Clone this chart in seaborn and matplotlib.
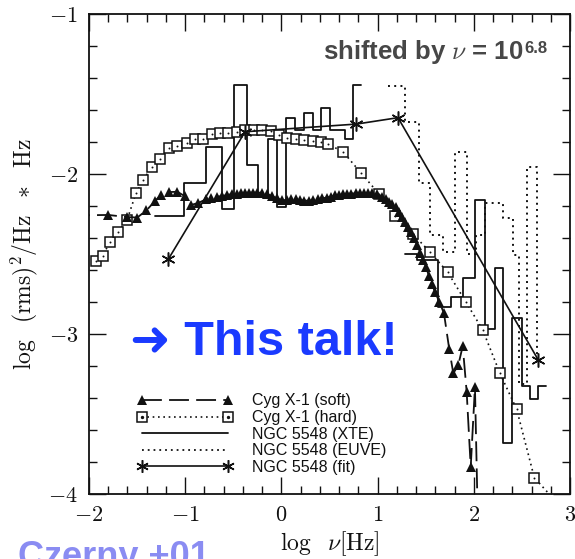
import numpy as np
import pandas as pd
import matplotlib
matplotlib.use("Agg")
import matplotlib.pyplot as plt
from matplotlib.lines import Line2D
from matplotlib.legend_handler import HandlerTuple
from matplotlib.ticker import MultipleLocator, FuncFormatter
import seaborn as sns

# ---------------- data ----------------
soft_x = [-2.198, -1.799, -1.608, -1.498, -1.404, -1.309, -1.255, -1.168, -1.082, -1.005,
          -0.943, -0.864, -0.787, -0.732, -0.666, -0.617, -0.565, -0.510, -0.462, -0.420,
          -0.378, -0.337, -0.295, -0.254, -0.199, -0.150, -0.095, -0.046, 0.009, 0.058,
          0.100, 0.149, 0.193, 0.235, 0.287, 0.328, 0.380, 0.425, 0.474, 0.516,
          0.557, 0.599, 0.640, 0.682, 0.723, 0.772, 0.817, 0.859, 0.900, 0.945,
          0.994, 1.049, 1.087, 1.119, 1.150, 1.188, 1.222, 1.257, 1.285, 1.316,
          1.347, 1.378, 1.410, 1.441, 1.472, 1.503, 1.534, 1.565, 1.597, 1.641,
          1.690, 1.745, 1.787, 1.839, 1.885, 1.926, 1.968, 2.012, 2.044]
soft_y = [-2.259, -2.256, -2.269, -2.272, -2.228, -2.166, -2.131, -2.113, -2.111, -2.138,
          -2.194, -2.181, -2.159, -2.147, -2.141, -2.138, -2.131, -2.125, -2.122, -2.119,
          -2.118, -2.117, -2.116, -2.116, -2.117, -2.125, -2.138, -2.153, -2.163, -2.163,
          -2.159, -2.158, -2.163, -2.166, -2.167, -2.163, -2.156, -2.152, -2.147, -2.141,
          -2.134, -2.131, -2.128, -2.125, -2.122, -2.121, -2.119, -2.119, -2.119, -2.121,
          -2.128, -2.142, -2.156, -2.173, -2.188, -2.209, -2.238, -2.269, -2.300, -2.331,
          -2.363, -2.400, -2.444, -2.494, -2.538, -2.581, -2.638, -2.688, -2.738, -2.798,
          -2.871, -3.096, -3.246, -3.194, -3.075, -3.363, -3.831, -3.331, -4.225]

hard_x = [-1.930, -1.854, -1.785, -1.695, -1.605, -1.511, -1.439, -1.345, -1.257, -1.168,
          -1.082, -0.984, -0.898, -0.812, -0.725, -0.638, -0.552, -0.465, -0.378, -0.290,
          -0.202, -0.111, -0.022, 0.061, 0.152, 0.238, 0.325, 0.409, 0.488, 0.643,
          0.824, 1.015, 1.176, 1.371, 1.545, 1.729, 1.916, 2.093, 2.272, 2.446,
          2.629, 2.958]
hard_y = [-2.542, -2.511, -2.423, -2.361, -2.288, -2.119, -2.038, -1.956, -1.906, -1.839,
          -1.825, -1.808, -1.781, -1.781, -1.747, -1.743, -1.741, -1.736, -1.728, -1.728,
          -1.727, -1.731, -1.758, -1.775, -1.779, -1.786, -1.794, -1.798, -1.813, -1.863,
          -1.991, -2.125, -2.261, -2.378, -2.488, -2.614, -2.798, -2.975, -3.246, -3.471,
          -3.898, -4.116]

# NGC 5548 XTE histogram (bin left edges, bin values); last entry closes the last bin
xte_lo_x = [-1.314, -1.012, -0.781, -0.621, -0.496, -0.361, -0.240, -0.136, -0.043, 0.048,
            0.141, 0.235, 0.332, 0.409, 0.505, 0.661, 0.747, 0.827]
xte_lo_y = [-2.263, -2.054, -1.833, -2.221, -1.444, -1.944, -2.131, -1.783, -2.204, -1.647,
            -1.725, -1.619, -1.725, -1.589, -1.725, -1.783, -1.444, -1.444]
xte_hi_x = [1.285, 1.406, 1.631, 1.763, 1.883, 2.012, 2.116, 2.220, 2.307, 2.402,
            2.498, 2.584, 2.671, 2.751]
xte_hi_y = [-2.500, -2.538, -2.829, -2.767, -2.652, -2.163, -2.969, -2.589, -3.679, -2.897,
            -3.322, -3.409, -3.322, -3.322]

# NGC 5548 EUVE histogram
euve_x = [1.111, 1.285, 1.434, 1.545, 1.677, 1.805, 1.926, 2.026, 2.116, 2.307,
          2.404, 2.473, 2.556, 2.654, 2.654]
euve_y = [-1.450, -1.673, -2.058, -2.381, -2.486, -1.861, -2.500, -2.381, -2.183, -2.277,
          -2.506, -3.313, -1.954, -3.163, -3.163]

# NGC 5548 fit
fit_x = [-1.174, -0.378, 0.779, 1.212, 2.671]
fit_y = [-2.531, -1.736, -1.688, -1.648, -3.163]

labels = ["Cyg X-1 (soft)", "Cyg X-1 (hard)", "NGC 5548 (XTE)", "NGC 5548 (EUVE)", "NGC 5548 (fit)"]
xticks = [-2, -1, 0, 1, 2, 3]
yticks = [-4, -3, -2, -1]

# ---------------- style ----------------
sns.set_style("ticks")
plt.rcParams["font.family"] = ["Liberation Sans", "DejaVu Sans"]
plt.rcParams["mathtext.fontset"] = "cm"

INK = "#111111"
SOFT_LS = (0, (11, 4))
DOT_LS = (0, (1, 2.2))
ASTER = (6, 2, 0)

fig = plt.figure(figsize=(5.75, 5.59), dpi=100)
ax = fig.add_axes([89 / 575, 1 - 494 / 559, 481 / 575, 480 / 559])

soft = pd.DataFrame({"x": soft_x, "y": soft_y})
hard = pd.DataFrame({"x": hard_x, "y": hard_y})
fit = pd.DataFrame({"x": fit_x, "y": fit_y})

sns.lineplot(data=soft, x="x", y="y", sort=False, estimator=None, ax=ax, color=INK,
             lw=1.3, linestyle=SOFT_LS, marker="^", markersize=7,
             markeredgewidth=0, markerfacecolor=INK, zorder=4)
sns.lineplot(data=hard, x="x", y="y", sort=False, estimator=None, ax=ax, color=INK,
             lw=1.2, linestyle=DOT_LS, marker="s", markersize=6.8,
             markerfacecolor="white", markeredgecolor=INK, markeredgewidth=1.1, zorder=3)
sns.scatterplot(data=hard, x="x", y="y", ax=ax, color=INK, s=2, linewidth=0, zorder=3.5)

sns.lineplot(x=xte_lo_x, y=xte_lo_y, sort=False, estimator=None, ax=ax, color=INK,
             lw=1.3, drawstyle="steps-post", zorder=2)
sns.lineplot(x=xte_hi_x, y=xte_hi_y, sort=False, estimator=None, ax=ax, color=INK,
             lw=1.3, drawstyle="steps-post", zorder=2)
sns.lineplot(x=euve_x, y=euve_y, sort=False, estimator=None, ax=ax, color=INK,
             lw=1.4, linestyle=DOT_LS, drawstyle="steps-post", zorder=2)
sns.lineplot(data=fit, x="x", y="y", sort=False, estimator=None, ax=ax, color=INK,
             lw=1.2, zorder=5)
ax.plot(fit["x"], fit["y"], linestyle="none", marker=ASTER, markersize=10,
        markeredgewidth=1.1, color=INK, zorder=5.5)

ax.set_xlim(-2, 3)
ax.set_ylim(-4, -1)
ax.set_xticks(xticks)
ax.set_yticks(yticks)
ax.xaxis.set_minor_locator(MultipleLocator(0.2))
ax.yaxis.set_minor_locator(MultipleLocator(0.2))
fmt = FuncFormatter(lambda v, p: r"$%d$" % int(round(v)))
ax.xaxis.set_major_formatter(fmt)
ax.yaxis.set_major_formatter(fmt)
ax.tick_params(which="both", direction="in", top=True, right=True, color=INK, width=1.0,
               labelsize=16, labelcolor=INK)
ax.tick_params(which="major", length=12)
ax.tick_params(which="minor", length=6)
ax.tick_params(axis="x", pad=8)
ax.tick_params(axis="y", pad=8)
for s in ax.spines.values():
    s.set_linewidth(1.3)
    s.set_color(INK)
ax.set_xlabel(r"$\log\ \ \nu[\mathrm{Hz}]$", fontsize=17, color=INK, labelpad=2)
ax.set_ylabel(r"$\log\ \ (\mathrm{rms})^2/\mathrm{Hz}\ \ *\ \ \mathrm{Hz}$", fontsize=17,
              color=INK, labelpad=6)

# legend
h_soft = Line2D([], [], color=INK, lw=1.3, linestyle=SOFT_LS, marker="^",
                markersize=7, markeredgewidth=0)
h_hard = Line2D([], [], color=INK, lw=1.2, linestyle=DOT_LS, marker="s",
                markersize=6.8, markerfacecolor="white", markeredgewidth=1.1)
h_hard_dot = Line2D([], [], color=INK, lw=0, marker="o", markersize=1.4)
h_xte = Line2D([], [], color=INK, lw=1.3)
h_euve = Line2D([], [], color=INK, lw=1.3, linestyle=DOT_LS)
h_fit = Line2D([], [], color=INK, lw=1.2, marker=ASTER, markersize=9, markeredgewidth=1.1)
leg = ax.legend([h_soft, (h_hard, h_hard_dot), h_xte, h_euve, h_fit], labels,
                handler_map={tuple: HandlerTuple(ndivide=1, pad=0)},
                loc="upper left", bbox_to_anchor=((137 - 89) / 481, (494 - 393.5) / 480),
                frameon=False, fontsize=11.5, handlelength=6.0, handletextpad=1.2,
                labelspacing=0.1, borderpad=0, borderaxespad=0, numpoints=2)
for t in leg.get_texts():
    t.set_color(INK)

# annotations
fig.text(523 / 575, 1 - 59 / 559, r"shifted by $\nu$ = 10", fontsize=18.5, fontweight="bold",
         color="#474747", ha="right", va="baseline")
fig.text(524 / 575, 1 - 53 / 559, "6.8", fontsize=12, fontweight="bold",
         color="#474747", ha="left", va="baseline")
fig.text(130 / 575, 1 - 355 / 559, "➜ This talk!", fontsize=35, fontweight="bold",
         color="#1a3aff", ha="left", va="baseline",
         family=["Liberation Sans", "DejaVu Sans"])
fig.text(18 / 575, 1 - 540 / 559, "Czerny +01", fontsize=26, fontweight="bold",
         color="#8a8cf2", ha="left", va="top")

fig.savefig("out.png", dpi=100)
